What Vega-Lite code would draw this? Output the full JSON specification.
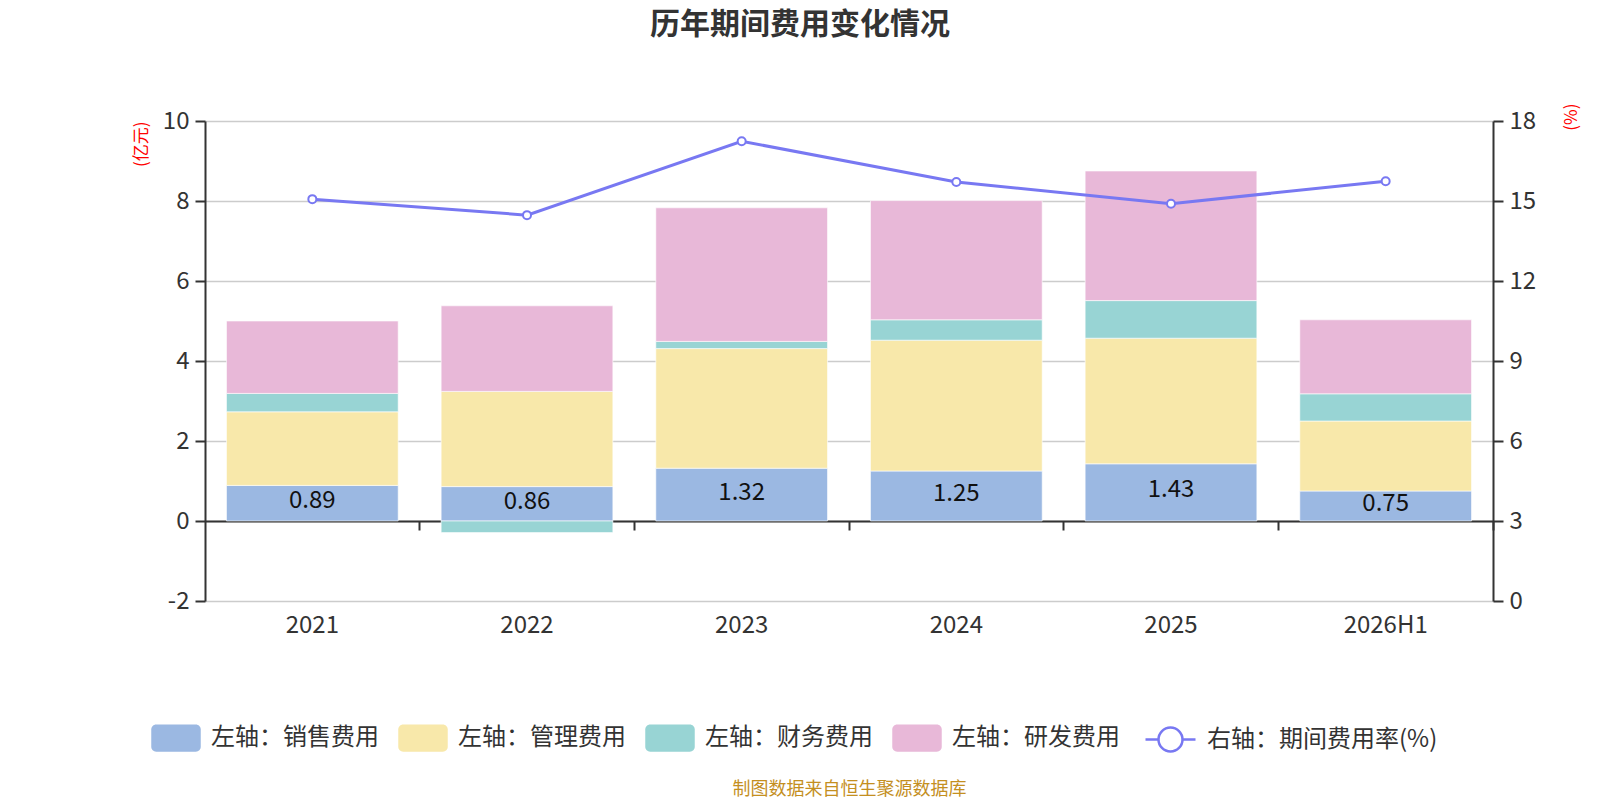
{
  "$schema": "https://vega.github.io/schema/vega-lite/v6.json",
  "width": 1288,
  "height": 480,
  "autosize": {"type": "none"},
  "padding": {"left": 205, "top": 121, "right": 107, "bottom": 199},
  "config": {
    "font": "Noto Sans CJK SC",
    "view": {"stroke": null},
    "axis": {"labelFont": "Noto Sans CJK SC", "titleFont": "Noto Sans CJK SC"},
    "legend": {"labelFont": "Noto Sans CJK SC"}
  },
  "title": {
    "text": "历年期间费用变化情况",
    "fontSize": 30,
    "fontWeight": "bold",
    "color": "#333333",
    "anchor": "middle",
    "frame": "group",
    "dx": -49,
    "offset": 63
  },
  "datasets": {
    "bars": [
      {"period": "2021", "item": "销售费用", "value": 0.89},
      {"period": "2021", "item": "管理费用", "value": 1.84},
      {"period": "2021", "item": "财务费用", "value": 0.46},
      {"period": "2021", "item": "研发费用", "value": 1.81},
      {"period": "2022", "item": "销售费用", "value": 0.86},
      {"period": "2022", "item": "管理费用", "value": 2.38},
      {"period": "2022", "item": "财务费用", "value": -0.29},
      {"period": "2022", "item": "研发费用", "value": 2.14},
      {"period": "2023", "item": "销售费用", "value": 1.32},
      {"period": "2023", "item": "管理费用", "value": 2.99},
      {"period": "2023", "item": "财务费用", "value": 0.18},
      {"period": "2023", "item": "研发费用", "value": 3.34},
      {"period": "2024", "item": "销售费用", "value": 1.25},
      {"period": "2024", "item": "管理费用", "value": 3.27},
      {"period": "2024", "item": "财务费用", "value": 0.51},
      {"period": "2024", "item": "研发费用", "value": 2.98},
      {"period": "2025", "item": "销售费用", "value": 1.43},
      {"period": "2025", "item": "管理费用", "value": 3.14},
      {"period": "2025", "item": "财务费用", "value": 0.94},
      {"period": "2025", "item": "研发费用", "value": 3.24},
      {"period": "2026H1", "item": "销售费用", "value": 0.75},
      {"period": "2026H1", "item": "管理费用", "value": 1.75},
      {"period": "2026H1", "item": "财务费用", "value": 0.68},
      {"period": "2026H1", "item": "研发费用", "value": 1.85}
    ],
    "rates": [
      {"period": "2021", "series": "右轴：期间费用率(%)", "rate": 15.07},
      {"period": "2022", "series": "右轴：期间费用率(%)", "rate": 14.47},
      {"period": "2023", "series": "右轴：期间费用率(%)", "rate": 17.24},
      {"period": "2024", "series": "右轴：期间费用率(%)", "rate": 15.71},
      {"period": "2025", "series": "右轴：期间费用率(%)", "rate": 14.9},
      {"period": "2026H1", "series": "右轴：期间费用率(%)", "rate": 15.74}
    ]
  },
  "layer": [
    {
      "data": {"name": "bars"},
      "transform": [
        {"window": [{"op": "row_number", "as": "stack_rank"}], "groupby": ["period"]}
      ],
      "mark": {"type": "bar", "stroke": "#ffffff", "strokeWidth": 1, "strokeOpacity": 0.6},
      "encoding": {
        "x": {
          "field": "period",
          "type": "nominal",
          "sort": null,
          "scale": {"paddingInner": 0.2, "paddingOuter": 0.1},
          "axis": {
            "orient": "bottom",
            "domain": false,
            "ticks": false,
            "labelAngle": 0,
            "labelFontSize": 24,
            "labelColor": "#333333",
            "labelPadding": 12,
            "title": "制图数据来自恒生聚源数据库",
            "titleColor": "#c48f1f",
            "titleFontSize": 18,
            "titleFontWeight": "normal",
            "titlePadding": 143
          }
        },
        "y": {
          "field": "value",
          "type": "quantitative",
          "scale": {"domain": [-2, 10], "nice": false},
          "axis": {
            "orient": "left",
            "values": [-2, 0, 2, 4, 6, 8, 10],
            "labelExpr": "'' + datum.value",
            "grid": true,
            "gridColor": "#cccccc",
            "gridWidth": 1.5,
            "domainColor": "#333333",
            "domainWidth": 2,
            "tickColor": "#333333",
            "tickWidth": 2,
            "tickSize": 10,
            "labelFontSize": 24,
            "labelColor": "#333333",
            "labelPadding": 6,
            "title": "(亿元)",
            "titleColor": "#ff0000",
            "titleFontSize": 17,
            "titleFontWeight": "normal",
            "titleAnchor": "end",
            "titlePadding": 12
          }
        },
        "color": {
          "field": "item",
          "type": "nominal",
          "sort": ["销售费用", "管理费用", "财务费用", "研发费用"],
          "scale": {
            "domain": ["销售费用", "管理费用", "财务费用", "研发费用"],
            "range": ["#9bb8e2", "#f8e8aa", "#98d4d4", "#e8b8d8"]
          },
          "legend": {
            "orient": "none",
            "direction": "horizontal",
            "columns": 4,
            "legendX": -54,
            "legendY": 592,
            "title": null,
            "labelExpr": "'左轴：' + datum.label",
            "labelFontSize": 24,
            "labelLimit": 0,
            "labelColor": "#333333",
            "labelOffset": 10,
            "columnPadding": 19,
            "symbolType": "M-0.8,-0.55H0.8A0.2,0.2 0 0 1 1,-0.35V0.35A0.2,0.2 0 0 1 0.8,0.55H-0.8A0.2,0.2 0 0 1 -1,0.35V-0.35A0.2,0.2 0 0 1 -0.8,-0.55Z",
            "symbolSize": 2450,
            "symbolStrokeWidth": 0,
            "symbolOpacity": 1
          }
        },
        "order": {"field": "stack_rank", "type": "quantitative", "sort": "ascending"}
      }
    },
    {
      "data": {"name": "bars"},
      "transform": [{"filter": "datum.item === '销售费用'"}],
      "mark": {"type": "text", "fontSize": 24, "color": "#111111", "baseline": "middle", "dy": -2},
      "encoding": {
        "x": {
          "field": "period",
          "type": "nominal",
          "sort": null,
          "axis": {
            "orient": "bottom",
            "offset": -80,
            "labels": false,
            "title": null,
            "domain": true,
            "domainColor": "#333333",
            "domainWidth": 2,
            "ticks": true,
            "bandPosition": 1.125,
            "tickColor": "#333333",
            "tickWidth": 2,
            "tickSize": 9,
            "grid": false
          }
        },
        "y": {
          "field": "value",
          "type": "quantitative",
          "scale": {"domain": [-4, 20], "nice": false},
          "axis": null
        },
        "text": {"field": "value", "type": "quantitative", "format": ".2f"}
      }
    },
    {
      "data": {"name": "rates"},
      "mark": {
        "type": "line",
        "strokeWidth": 3,
        "point": {"filled": false, "fill": "#ffffff", "size": 64, "strokeWidth": 2}
      },
      "encoding": {
        "x": {"field": "period", "type": "nominal", "sort": null, "axis": null},
        "y": {
          "field": "rate",
          "type": "quantitative",
          "scale": {"domain": [0, 18], "nice": false},
          "axis": {
            "orient": "right",
            "values": [0, 3, 6, 9, 12, 15, 18],
            "grid": false,
            "domainColor": "#333333",
            "domainWidth": 2,
            "tickColor": "#333333",
            "tickWidth": 2,
            "tickSize": 10,
            "labelFontSize": 24,
            "labelColor": "#333333",
            "labelPadding": 6,
            "title": "(%)",
            "titleColor": "#ff0000",
            "titleFontSize": 17,
            "titleFontWeight": "normal",
            "titleAngle": -90,
            "titleAnchor": "end",
            "titleBaseline": "top",
            "titleY": -18,
            "titlePadding": 28
          }
        },
        "stroke": {
          "field": "series",
          "type": "nominal",
          "scale": {"range": ["#7878f2"]},
          "legend": {
            "orient": "none",
            "legendX": 939,
            "legendY": 592,
            "title": null,
            "labelFontSize": 24,
            "labelLimit": 0,
            "labelColor": "#333333",
            "labelOffset": 10,
            "symbolType": "M-1,0H-0.48M0.48,0H1M-0.48,0A0.48,0.48 0 1 1 0.48,0A0.48,0.48 0 1 1 -0.48,0",
            "symbolSize": 2500,
            "symbolStrokeWidth": 2.5,
            "symbolFillColor": "#ffffff"
          }
        }
      }
    }
  ],
  "resolve": {"scale": {"y": "independent"}, "axis": {"x": "independent"}}
}
